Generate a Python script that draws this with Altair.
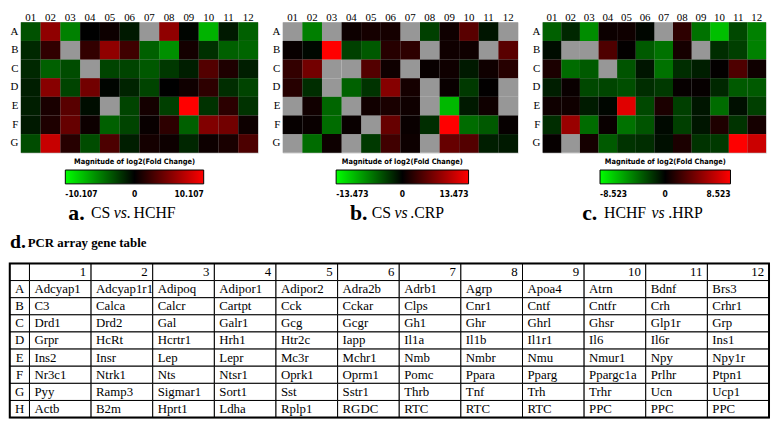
import altair as alt
import pandas as pd

# ---------------- heat map data (log2 fold change, None = not detected / grey) -------------
ROWS = list("ABCDEFG")
COLS = ["01", "02", "03", "04", "05", "06", "07", "08", "09", "10", "11", "12"]

A_MAX = 10.107
A_VALS = [
    [-3.2, 5.7, -5.1, 0.0, 0.5, -1.0, None, 5.7, -0.2, -7.1, -1.0, -3.8],
    [-1.6, 1.9, None, 2.0, 5.7, 2.5, -3.8, -5.7, 0.8, -1.9, -3.8, -4.0],
    [-1.6, -3.8, -3.0, None, -2.7, -2.7, -3.5, -2.2, -1.2, 3.3, 1.2, -1.2],
    [-1.2, 5.4, -2.7, 4.5, -0.2, -1.4, -2.7, 0.0, 0.6, 1.8, -1.8, -2.7],
    [-1.2, 1.0, 3.5, -0.5, None, -2.7, 0.8, -2.5, 10.1, -2.0, 1.7, -2.0],
    [-1.0, 1.2, 4.0, 0.5, -3.8, -2.7, 0.3, 1.8, -3.8, 5.1, 4.5, 0.5],
    [-3.0, 7.9, 1.5, -3.0, 3.0, -1.2, 0.8, 0.5, -1.5, 0.5, 1.0, 3.0],
]

B_MAX = 13.473
B_VALS = [
    [None, -6.7, None, 0.7, 1.1, 1.1, None, -3.4, 0.8, 4.7, -1.1, None],
    [0.4, -0.4, 13.5, -3.4, -4.7, 2.0, 2.4, None, 0.8, 0.8, None, 4.7],
    [2.7, 6.1, None, None, 4.4, 0.8, None, 0.4, 0.8, -1.3, 0.8, 2.0],
    [2.0, -2.4, None, -5.1, -2.7, 7.1, 1.1, None, 0.5, -3.0, 0.1, None],
    [None, 0.9, -5.4, None, 0.9, 1.3, 0.8, None, -9.7, -1.3, 0.8, None],
    [0.3, 0.5, -5.7, 0.5, None, 5.4, 0.5, -2.4, 13.5, -5.7, -4.7, 0.3],
    [None, -5.7, 0.7, None, -3.0, 3.4, 0.7, None, 5.4, 4.4, -1.6, -1.3],
]

C_MAX = 8.523
C_VALS = [
    [-3.2, -1.3, -4.7, 0.4, 0.5, -0.2, None, 1.5, -3.8, -6.4, -2.4, -4.3],
    [-0.4, None, None, 2.6, 0.1, -3.0, -3.8, 0.7, None, -1.5, -2.1, -4.3],
    [0.9, -3.6, -3.0, None, -2.8, -0.7, -3.8, -1.5, -1.0, 0.1, 2.6, 0.5],
    [-1.0, 0.3, -2.4, -2.3, -2.6, -1.5, -1.9, 0.2, 0.2, -1.3, -3.0, -3.0],
    [0.5, 0.5, -0.9, -0.2, 7.5, -2.4, 0.9, -2.1, -0.7, -3.6, -0.5, -2.1],
    [-1.5, 5.1, -3.6, 0.3, -3.8, -2.8, -0.3, -2.1, -0.7, 1.0, -1.7, 0.7],
    [0.2, None, 0.7, -3.0, -1.7, -1.5, -0.5, 0.9, -1.7, -1.9, 8.5, 6.8],
]

# ---------------- gene table --------------------------------------------------------------
TABLE_ROWS = list("ABCDEFGH")
TABLE_COLS = [1, 2, 3, 4, 5, 6, 7, 8, 9, 10, 11, 12]
GENES = [
    ["Adcyap1", "Adcyap1r1", "Adipoq", "Adipor1", "Adipor2", "Adra2b", "Adrb1", "Agrp", "Apoa4", "Atrn", "Bdnf", "Brs3"],
    ["C3", "Calca", "Calcr", "Cartpt", "Cck", "Cckar", "Clps", "Cnr1", "Cntf", "Cntfr", "Crh", "Crhr1"],
    ["Drd1", "Drd2", "Gal", "Galr1", "Gcg", "Gcgr", "Gh1", "Ghr", "Ghrl", "Ghsr", "Glp1r", "Grp"],
    ["Grpr", "HcRt", "Hcrtr1", "Hrh1", "Htr2c", "Iapp", "Il1a", "Il1b", "Il1r1", "Il6", "Il6r", "Ins1"],
    ["Ins2", "Insr", "Lep", "Lepr", "Mc3r", "Mchr1", "Nmb", "Nmbr", "Nmu", "Nmur1", "Npy", "Npy1r"],
    ["Nr3c1", "Ntrk1", "Nts", "Ntsr1", "Oprk1", "Oprm1", "Pomc", "Ppara", "Pparg", "Ppargc1a", "Prlhr", "Ptpn1"],
    ["Pyy", "Ramp3", "Sigmar1", "Sort1", "Sst", "Sstr1", "Thrb", "Tnf", "Trh", "Trhr", "Ucn", "Ucp1"],
    ["Actb", "B2m", "Hprt1", "Ldha", "Rplp1", "RGDC", "RTC", "RTC", "RTC", "PPC", "PPC", "PPC"],
]

SERIF = "Liberation Serif"
NARROW = "'Liberation Sans Narrow', 'DejaVu Sans Condensed', 'Arial Narrow', sans-serif"
HEAT_H = 132
LEG_Y = 137
CAP_Y = 193
TABLE_H = 156


def heat_df(vals):
    recs = []
    for ri, r in enumerate(ROWS):
        for ci, c in enumerate(COLS):
            recs.append({"row": r, "col": c, "v": vals[ri][ci]})
    return pd.DataFrame(recs)


def text_layer(txt, x, y, size, weight="normal", style="normal", font=SERIF):
    return alt.Chart(pd.DataFrame({"k": [0]})).mark_text(
        text=txt, align="left", baseline="middle", font=font, fontSize=size,
        fontWeight=weight, fontStyle=style, color="black",
    ).encode(x=alt.value(x), y=alt.value(y))


def panel(vals, vmax, width, legend_x, grad_len, captions):
    df = heat_df(vals)
    band = alt.Scale(paddingInner=0, paddingOuter=0)
    base = alt.Chart(df).encode(
        x=alt.X("col:O", sort=COLS, scale=band,
                axis=alt.Axis(orient="top", title=None, labelAngle=0, ticks=False, domain=False,
                              labelFont=SERIF, labelFontSize=11, labelPadding=0, labelColor="black")),
        y=alt.Y("row:O", sort=ROWS, scale=band,
                axis=alt.Axis(title=None, ticks=False, domain=False, labelFont=SERIF,
                              labelFontSize=11, labelPadding=3, labelColor="black")),
    )
    grey = base.mark_rect(color="#979797")
    colored = base.mark_rect().encode(
        color=alt.Color(
            "v:Q",
            scale=alt.Scale(domain=[-vmax, 0, vmax], range=["#00ff00", "#000000", "#ff0000"],
                            interpolate="rgb", clamp=True),
            legend=alt.Legend(
                orient="none", legendX=legend_x, legendY=LEG_Y, direction="horizontal",
                gradientLength=grad_len, gradientThickness=14,
                gradientStrokeColor="black", gradientStrokeWidth=1,
                title="Magnitude of log2(Fold Change)", titleFont=NARROW, titleFontSize=7.5,
                titleFontWeight="bold", titleColor="black", titleAnchor="middle", titlePadding=5,
                values=[-vmax, 0, vmax],
                labelExpr="(datum.value < 0 ? '-' : '') + (datum.value == 0 ? '0' : format(abs(datum.value), '.3f'))",
                labelAlign="center", labelOverlap=False, labelFont=NARROW, labelFontSize=8.5,
                labelFontWeight="bold", labelColor="black", labelOffset=6, padding=0,
            ),
        )
    ).transform_filter("isValid(datum.v)")
    layers = [grey, colored]
    for (txt, x, size, weight, style) in captions:
        layers.append(text_layer(txt, x, CAP_Y, size, weight, style))
    return alt.layer(*layers).properties(width=width, height=HEAT_H)


pa = panel(A_VALS, A_MAX, 240, 45, 140, [
    ("a.", 48, 22, "bold", "normal"), ("CS", 71, 16, "normal", "normal"),
    ("vs.", 94, 16, "normal", "italic"), ("HCHF", 114, 16, "normal", "normal")])
pb = panel(B_VALS, B_MAX, 238, 54, 134, [
    ("b.", 68, 22, "bold", "normal"), ("CS", 90, 16, "normal", "normal"),
    ("vs", 113, 16, "normal", "italic"), (".CRP", 129, 16, "normal", "normal")])
pc = panel(C_VALS, C_MAX, 226, 58, 132, [
    ("c.", 40, 22, "bold", "normal"), ("HCHF", 62, 16, "normal", "normal"),
    ("vs", 110, 16, "normal", "italic"), (".HRP", 127, 16, "normal", "normal")])

top = alt.hconcat(pa, pb, pc, spacing=12).resolve_scale(color="independent")

# ---------------- table chart ------------------------------------------------------------
LABEL_W = 0.32      # width of the row-letter column, in gene-column units
X_START = -0.14     # the row-letter column hangs partly left of the table origin
recs = []
recs.append({"r": "hdr", "c": 0, "t": "", "k": "blank"})
for c in TABLE_COLS:
    recs.append({"r": "hdr", "c": c, "t": str(c), "k": "num"})
for ri, r in enumerate(TABLE_ROWS):
    recs.append({"r": r, "c": 0, "t": r, "k": "row"})
    for ci, c in enumerate(TABLE_COLS):
        recs.append({"r": r, "c": c, "t": GENES[ri][ci], "k": "gene"})
tdf = pd.DataFrame(recs)
TORDER = ["hdr"] + TABLE_ROWS

tbase = alt.Chart(tdf).transform_calculate(
    x0=f"datum.c == 0 ? {-LABEL_W} : datum.c - 1",
    x1="datum.c == 0 ? 0 : datum.c",
    xm=f"datum.c == 0 ? {-LABEL_W / 2} : datum.c - 0.5",
)
xs = alt.Scale(domain=[X_START, len(TABLE_COLS)], nice=False, zero=False)
yenc = alt.Y("r:O", sort=TORDER, scale=alt.Scale(paddingInner=0, paddingOuter=0), axis=None)

cells = tbase.mark_rect(fill="white", stroke="black", strokeWidth=1).encode(
    x=alt.X("x0:Q", scale=xs, axis=None), x2="x1:Q", y=yenc)
gene_txt = tbase.mark_text(align="left", dx=5, font=SERIF, fontSize=13, color="black").encode(
    x=alt.X("x0:Q", scale=xs, axis=None), y=yenc, text="t:N").transform_filter("datum.k == 'gene'")
num_txt = tbase.mark_text(align="right", dx=-5, font=SERIF, fontSize=13, color="black").encode(
    x=alt.X("x1:Q", scale=xs, axis=None), y=yenc, text="t:N").transform_filter("datum.k == 'num'")
row_txt = tbase.mark_text(align="center", font=SERIF, fontSize=13, color="black").encode(
    x=alt.X("xm:Q", scale=xs, axis=None), y=yenc, text="t:N").transform_filter("datum.k == 'row'")

frame = alt.Chart(pd.DataFrame({"a": [-LABEL_W], "b": [len(TABLE_COLS)]})).mark_rect(
    fill=None, stroke="black", strokeWidth=2).encode(
    x=alt.X("a:Q", scale=xs, axis=None), x2="b:Q", y=alt.value(0), y2=alt.value(TABLE_H))

title_d = text_layer("d.", -11, -22, 20, "bold")
title_rest = text_layer("PCR array gene table", 7, -21, 13, "bold")

table = alt.layer(cells, gene_txt, num_txt, row_txt, frame, title_d, title_rest).properties(
    width=757, height=TABLE_H)

chart = alt.vconcat(top, table, spacing=6).properties(padding=0).configure_view(
    strokeWidth=0).configure(background="white")

chart.save("out.html", embed_options={"renderer": "svg", "actions": False})
